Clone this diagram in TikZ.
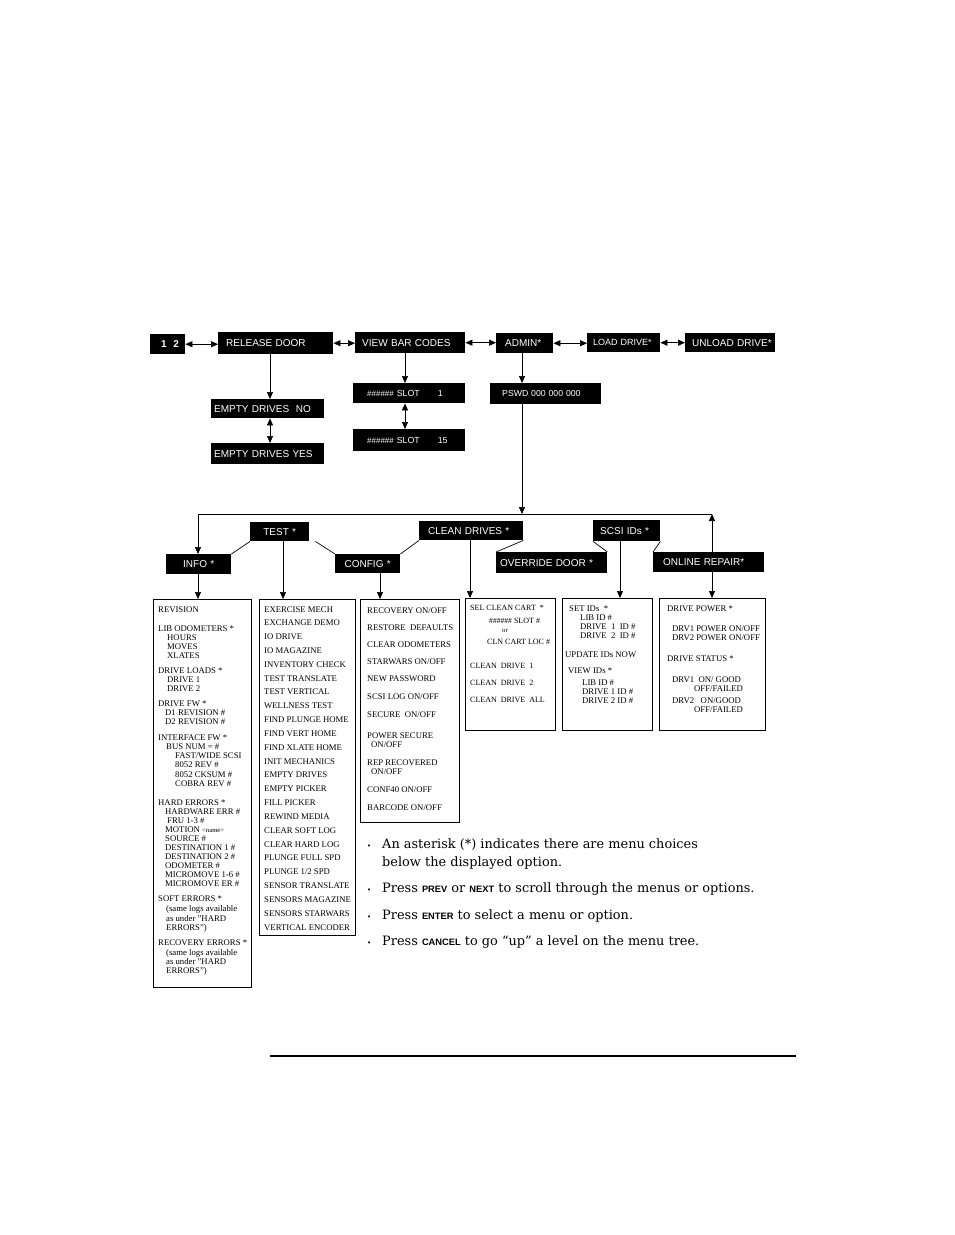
\documentclass[tikz,border=0pt]{standalone}
\usepackage{fontspec}
\setmainfont{Liberation Serif}
\setsansfont{Liberation Sans}
\newfontfamily\notefont{DejaVu Serif}
\usetikzlibrary{arrows.meta}

\newcommand{\itm}{\fontsize{8.7}{9}\selectfont}
\newcommand{\sm}{\fontsize{6.7}{8}\selectfont}
\newcommand{\btn}[1]{{\sffamily\bfseries\fontsize{9.3}{10}\selectfont #1}}
\newcommand{\hsh}{\#\#\#\#\#\#}
\newcommand{\bul}{\llap{{\fontsize{7}{7}\selectfont •}\hspace{11pt}}}

\tikzset{
	menu/.style={fill=black,text=white,font=\sffamily\fontsize{10}{10}\selectfont,
		anchor=north west,inner sep=0pt,align=left},
	list/.style={draw,line width=0.8pt,anchor=north west,inner sep=0pt},
	item/.style={anchor=base west,inner sep=0pt,font=\itm},
	note/.style={anchor=base west,inner sep=0pt,font=\notefont\fontsize{12.9}{15}\selectfont},
	arr/.style={-{Triangle[length=7pt,width=6pt]},line width=0.7pt},
	dbl/.style={{Triangle[length=7pt,width=6pt]}-{Triangle[length=7pt,width=6pt]},line width=0.7pt}
}

\begin{document}
\begin{tikzpicture}[x=1pt,y=-1pt]
	\fill[white] (0,0) rectangle (954,1235);
	\useasboundingbox (0,0) rectangle (954,1235);

	% top row
	\node[menu,text width=35pt,minimum height=20pt,
		font=\sffamily\bfseries\fontsize{10}{10}\selectfont] (onetwo) at (150,334) {\hspace*{11pt}1\ \ 2};
	\node[menu,text width=115pt,minimum height=22pt] (reldoor) at (218,332) {\hspace*{8pt}RELEASE DOOR};
	\node[menu,text width=110pt,minimum height=21pt] (vbc) at (355,332) {\hspace*{7pt}VIEW BAR CODES};
	\node[menu,text width=57pt,minimum height=20pt] (admin) at (496,333) {\hspace*{9pt}ADMIN*};
	\node[menu,text width=73pt,minimum height=19pt,
		font=\sffamily\fontsize{9}{9}\selectfont] (load) at (587,333) {\hspace*{6pt}LOAD DRIVE*};
	\node[menu,text width=90pt,minimum height=19pt] (unload) at (685,333) {\hspace*{7pt}UNLOAD DRIVE*};

	\node[menu,text width=113pt,minimum height=19pt] (edno) at (211,399) {\hspace*{3pt}EMPTY DRIVES\ \ NO};
	\node[menu,text width=113pt,minimum height=21pt] (edyes) at (211,443) {\hspace*{3pt}EMPTY DRIVES YES};
	\node[menu,text width=112pt,minimum height=20pt,font=\sffamily\fontsize{8.8}{9}\selectfont] (slot1)
		at (353,383) {\hspace*{14pt}{\fontsize{8}{8}\selectfont\hsh} SLOT\hspace{18pt}1};
	\node[menu,text width=112pt,minimum height=22pt,font=\sffamily\fontsize{8.8}{9}\selectfont] (slot15)
		at (353,429) {\hspace*{14pt}{\fontsize{8}{8}\selectfont\hsh} SLOT\hspace{18pt}15};
	\node[menu,text width=111pt,minimum height=21pt,
		font=\sffamily\fontsize{8.7}{9}\selectfont] (pswd) at (490,383) {\hspace*{12pt}PSWD 000 000 000};

	\draw[dbl] (onetwo.east) -- (onetwo.east -| reldoor.west);
	\draw[dbl] (reldoor.east) -- (reldoor.east -| vbc.west);
	\draw[dbl] (vbc.east) -- (vbc.east -| admin.west);
	\draw[dbl] (admin.east) -- (admin.east -| load.west);
	\draw[dbl] (load.east) -- (load.east -| unload.west);

	\draw[arr] (reldoor.south -| 270,0) -- (edno.north -| 270,0);
	\draw[dbl] (edno.south -| 270,0) -- (edyes.north -| 270,0);
	\draw[arr] (vbc.south -| 405,0) -- (slot1.north -| 405,0);
	\draw[dbl] (slot1.south -| 405,0) -- (slot15.north -| 405,0);
	\draw[arr] (admin.south -| 522,0) -- (pswd.north -| 522,0);

	% admin menus
	\node[menu,align=center,text width=65pt,minimum height=20pt] (info) at (166,554) {INFO *};
	\node[menu,align=center,text width=59pt,minimum height=19pt] (test) at (250,522) {TEST *};
	\node[menu,align=center,text width=65pt,minimum height=19pt] (config) at (335,554) {CONFIG *};
	\node[menu,text width=104pt,minimum height=19pt] (clean) at (419,521) {\hspace*{9pt}CLEAN DRIVES *};
	\node[menu,text width=111pt,minimum height=21pt] (ovr) at (496,552) {\hspace*{4pt}OVERRIDE DOOR *};
	\node[menu,text width=67pt,minimum height=21pt] (scsi) at (593,520) {\hspace*{7pt}SCSI IDs *};
	\node[menu,text width=111pt,minimum height=20pt] (onrep) at (653,552) {\hspace*{10pt}ONLINE REPAIR*};

	\coordinate (split) at (522,514);
	\coordinate (lend) at (198,514);
	\coordinate (rend) at (712,514);
	\draw[arr] (pswd.south -| split) -- (split);
	\draw[line width=0.7pt] (lend) -- (rend);
	\draw[arr] (lend) -- (info.north -| lend);
	\draw[arr] (onrep.north -| rend) -- (rend);

	\draw[line width=0.7pt] (info.north east) -- (test.south west);
	\draw[line width=0.7pt] ([xshift=6pt]test.south east) -- (config.north west);
	\draw[line width=0.7pt] (config.north east) -- (clean.south west);
	\draw[line width=0.7pt] (clean.south east) -- (ovr.north west);
	\draw[line width=0.7pt] (scsi.south west) -- (ovr.north east);
	\draw[line width=0.7pt] (scsi.south east) -- (onrep.north west);

	% lists
	\node[list,minimum width=98pt,minimum height=388pt] (infolist) at (153,599) {};
	\node[list,minimum width=96pt,minimum height=336pt] (testlist) at (259,599) {};
	\node[list,minimum width=99pt,minimum height=223pt] (configlist) at (360,599) {};
	\node[list,minimum width=90pt,minimum height=132pt] (cleanlist) at (465,598) {};
	\node[list,minimum width=90pt,minimum height=132pt] (scsilist) at (562,598) {};
	\node[list,minimum width=106pt,minimum height=132pt] (onlist) at (659,598) {};

	\draw[arr] (info.south -| lend) -- (infolist.north -| lend);
	\draw[arr] (test.south -| 283,0) -- (testlist.north -| 283,0);
	\draw[arr] (config.south -| 380,0) -- (configlist.north -| 380,0);
	\draw[arr] (clean.south -| 470,0) -- (cleanlist.north -| 470,0);
	\draw[arr] (scsi.south -| 620,0) -- (scsilist.north -| 620,0);
	\draw[arr] (onrep.south -| rend) -- (onlist.north -| rend);

	\foreach \x/\y/\t [count=\i] in {
		158/612/REVISION,
		158/631/LIB ODOMETERS *, 167/640/HOURS, 167/649/MOVES, 167/658/XLATES,
		158/673/DRIVE LOADS *, 167/682/DRIVE 1, 167/691/DRIVE 2,
		158/706/DRIVE FW *, 165/715/D1 REVISION \#, 165/724/D2 REVISION \#,
		158/740/INTERFACE FW *, 166/749/BUS NUM = \#, 175/758/{FAST/WIDE SCSI},
		175/767/8052 REV \#, 175/777/8052 CKSUM \#, 175/786/COBRA REV \#,
		158/805/HARD ERRORS *, 165/814/HARDWARE ERR \#, 167/823/FRU 1-3 \#,
		165/832/MOTION {\sm <name>}, 165/841/SOURCE \#, 165/850/DESTINATION 1 \#,
		165/859/DESTINATION 2 \#, 165/868/ODOMETER \#, 165/877/MICROMOVE 1-6 \#,
		165/886/MICROMOVE ER \#,
		158/901/SOFT ERRORS *, 166/911/(same logs available,
		166/921/as under "HARD, 166/930/ERRORS"),
		158/945/RECOVERY ERRORS *, 166/955/(same logs available,
		166/964/as under "HARD, 166/973/ERRORS")
	} \node[item] (infoitem\i) at (\x,\y) {\t};

	\foreach \t [count=\i from 0] in {EXERCISE MECH, EXCHANGE DEMO, IO DRIVE,
		IO MAGAZINE, INVENTORY CHECK, TEST TRANSLATE, TEST VERTICAL, WELLNESS TEST,
		FIND PLUNGE HOME, FIND VERT HOME, FIND XLATE HOME, INIT MECHANICS,
		EMPTY DRIVES, EMPTY PICKER, FILL PICKER, REWIND MEDIA, CLEAR SOFT LOG,
		CLEAR HARD LOG, PLUNGE FULL SPD, PLUNGE 1/2 SPD, SENSOR TRANSLATE,
		SENSORS MAGAZINE, SENSORS STARWARS, VERTICAL ENCODER}
		\node[item] (testitem\i) at (264,612+13.83*\i) {\t};

	\foreach \x/\y/\t [count=\i] in {
		367/613/{RECOVERY ON/OFF}, 367/630/RESTORE\ \ DEFAULTS, 367/647/CLEAR ODOMETERS,
		367/664/{STARWARS ON/OFF}, 367/681/NEW PASSWORD, 367/699/{SCSI LOG ON/OFF},
		367/717/{SECURE\ \ ON/OFF}, 367/738/POWER SECURE, 371/747/{ON/OFF},
		367/765/REP RECOVERED, 371/774/{ON/OFF}, 367/792/{CONF40 ON/OFF},
		367/810/{BARCODE ON/OFF}
	} \node[item] (configitem\i) at (\x,\y) {\t};

	\foreach \x/\y/\t [count=\i] in {
		470/610/SEL CLEAN CART\ \ *, 489/623/{{\fontsize{7.6}{8}\selectfont\hsh} SLOT \#}, 502/632/{\sm or},
		487/644/CLN CART LOC \#, 470/668/CLEAN\ \ DRIVE\ \ 1,
		470/685/CLEAN\ \ DRIVE\ \ 2, 470/702/CLEAN\ \ DRIVE\ \ ALL
	} \node[item,font=\fontsize{8}{9}\selectfont] (cleanitem\i) at (\x,\y) {\t};

	\foreach \x/\y/\t [count=\i] in {
		569/611/SET IDs\ \ *, 580/620/LIB ID \#, 580/629/DRIVE\ \ 1\ \ ID \#,
		580/638/DRIVE\ \ 2\ \ ID \#, 565/657/UPDATE IDs NOW, 568/673/VIEW IDs *,
		582/685/LIB ID \#, 582/694/DRIVE 1 ID \#, 582/703/DRIVE 2 ID \#
	} \node[item] (scsiitem\i) at (\x,\y) {\t};

	\foreach \x/\y/\t [count=\i] in {
		667/611/DRIVE POWER *, 672/631/{DRV1 POWER ON/OFF}, 672/640/{DRV2 POWER ON/OFF},
		667/661/DRIVE STATUS *, 672/682/{DRV1\ \ ON/ GOOD}, 694/691/{OFF/FAILED},
		672/703/{DRV2\ \ \ ON/GOOD}, 694/712/{OFF/FAILED}
	} \node[item] (onitem\i) at (\x,\y) {\t};

	% notes
	\node[note] (note1) at (382,848) {\bul An asterisk (*) indicates there are menu choices};
	\node[note] (note1b) at (382,866) {below the displayed option.};
	\node[note] (note2) at (382,892) {\bul Press \btn{PREV} or \btn{NEXT} to scroll through the menus or options.};
	\node[note] (note3) at (382,919) {\bul Press \btn{ENTER} to select a menu or option.};
	\node[note] (note4) at (382,945) {\bul Press \btn{CANCEL} to go “up” a level on the menu tree.};

	\draw[line width=1.5pt] (270,1056) -- (796,1056);
\end{tikzpicture}
\end{document}
